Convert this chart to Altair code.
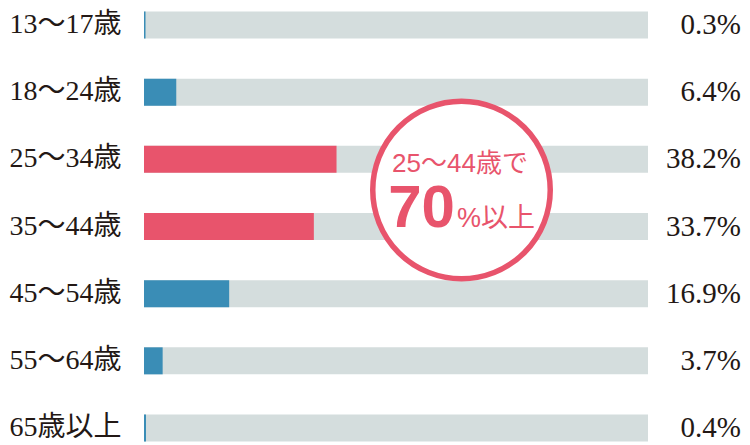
import altair as alt
import pandas as pd

categories = ["13〜17歳", "18〜24歳", "25〜34歳", "35〜44歳", "45〜54歳", "55〜64歳", "65歳以上"]
shares = [0.3, 6.4, 38.2, 33.7, 16.9, 3.7, 0.4]
groups = ["other", "other", "core", "core", "other", "other", "other"]
labels = ["0.3%", "6.4%", "38.2%", "33.7%", "16.9%", "3.7%", "0.4%"]
full = [100, 100, 100, 100, 100, 100, 100]

callout_line1 = ["25〜44歳で"]
callout_big = ["70"]
callout_suffix = ["%以上"]

PINK = "#e8546c"
BLUE = "#3a8db6"
GRAY = "#d4dddd"
INK = "#231815"
SERIF = "Liberation Serif, Noto Sans CJK JP"
SANS = "Liberation Sans, Noto Sans CJK JP"

df = pd.DataFrame({"age": categories, "share": shares, "group": groups,
                   "label": labels, "full": full})

y = alt.Y("age:N", sort=categories, title=None,
          scale=alt.Scale(paddingInner=0.598, paddingOuter=0.052),
          axis=alt.Axis(labelAlign="left", labelPadding=135, ticks=False, domain=False,
                        labelFont=SERIF, labelFontSize=28, labelColor=INK,
                        labelBaseline="middle", grid=False))
xs = alt.Scale(domain=[0, 100])

base = alt.Chart(df)
bg = base.mark_bar(color=GRAY).encode(y=y, x=alt.X("full:Q", scale=xs, axis=None))
fg = base.mark_bar().encode(
    y=y,
    x=alt.X("share:Q", scale=xs, axis=None),
    color=alt.Color("group:N", scale=alt.Scale(domain=["other", "core"], range=[BLUE, PINK]),
                    legend=None),
)
txt = base.mark_text(align="right", baseline="middle", font=SERIF, fontSize=29,
                     color=INK).encode(y=y, x=alt.value(597), text="label:N")

ann = alt.Chart(pd.DataFrame({"t1": callout_line1, "t2": callout_big, "t3": callout_suffix}))
circle = ann.mark_point(shape="circle", size=31500, filled=False, fill="white",
                        fillOpacity=1, stroke=PINK, strokeWidth=5.5, strokeOpacity=1,
                        opacity=1).encode(x=alt.value(317.5), y=alt.value(182))
t1 = ann.mark_text(align="center", baseline="alphabetic", font=SANS, fontSize=26,
                   color=PINK).encode(x=alt.value(316), y=alt.value(164), text="t1:N")
t2 = ann.mark_text(align="right", baseline="alphabetic", font=SANS, fontSize=60,
                   fontWeight="bold", color=PINK).encode(x=alt.value(311), y=alt.value(219),
                                                         text="t2:N")
t3 = ann.mark_text(align="left", baseline="alphabetic", font=SANS, fontSize=27,
                   color=PINK).encode(x=alt.value(313), y=alt.value(219), text="t3:N")

chart = alt.layer(bg, fg, txt, circle, t1, t2, t3).properties(
    width=504, height=437,
    padding={"left": 136, "top": 0, "right": 94, "bottom": 0},
    autosize="none",
).configure_view(stroke=None)

chart.save("out.html", embed_options={"renderer": "svg", "actions": False})
